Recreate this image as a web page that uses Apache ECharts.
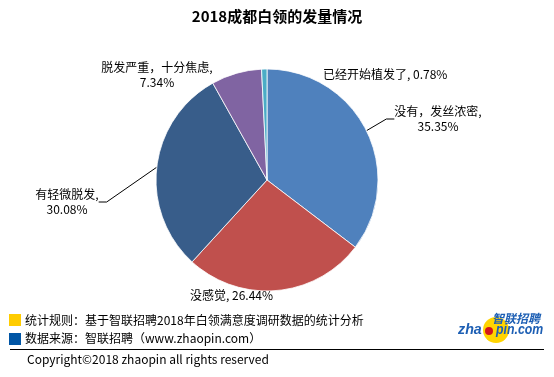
<!DOCTYPE html>
<html>
<head>
<meta charset="utf-8">
<script src="https://cdn.jsdelivr.net/npm/echarts@6/dist/echarts.min.js"></script>
<style>
  html, body { margin: 0; padding: 0; background: #fff; }
  #chart { width: 554px; height: 377px; }
</style>
</head>
<body>
<div id="chart"></div>
<script>
const names = ['没有，发丝浓密', '没感觉', '有轻微脱发', '脱发严重，十分焦虑', '已经开始植发了'];
const values = [35.35, 26.44, 30.08, 7.34, 0.78];
const colors = ['#4F81BD', '#C0504D', '#385D8A', '#8064A2', '#4BACC6'];
// label separator: one line or two
const seps = [',\n', ', ', ',\n', ',\n', ', '];

// label spots (x, y, align) and which ones get a leader line
const labelSpots = [
  [438, 119, 'center'],
  [190, 295, 'left'],
  [67, 202, 'center'],
  [157, 75, 'center'],
  [323, 74, 'left']
];
const withLine = [true, false, true, false, false];

const font = '"Microsoft YaHei", "Noto Sans CJK SC", sans-serif';
const logoFont = '"Liberation Sans", Arial, sans-serif';

const chart = echarts.init(document.getElementById('chart'));

chart.setOption({
  animation: false,
  title: {
    text: '2018成都白领的发量情况',
    left: 'center',
    top: 4,
    textStyle: { fontSize: 15, fontWeight: 'bold', color: '#000', fontFamily: font }
  },
  series: [{
    type: 'pie',
    center: [267, 180],
    radius: 111,
    startAngle: 90,
    clockwise: true,
    itemStyle: { borderColor: '#fff', borderWidth: 0.8 },
    label: {
      show: true,
      color: '#000',
      fontSize: 12,
      lineHeight: 15,
      fontFamily: font,
      formatter: p => p.name + seps[p.dataIndex] + p.value.toFixed(2) + '%'
    },
    labelLine: { lineStyle: { color: '#000', width: 1 }, length: 10, length2: 8 },
    labelLayout: p => {
      const s = labelSpots[p.dataIndex];
      return { x: s[0], y: s[1], align: s[2], verticalAlign: 'middle' };
    },
    data: names.map((n, i) => ({
      name: n,
      value: values[i],
      itemStyle: { color: colors[i] },
      label: { align: labelSpots[i][2] },
      labelLine: { show: withLine[i] }
    }))
  }],
  graphic: [
    { type: 'rect', shape: { x: 9, y: 314, width: 12, height: 12 }, style: { fill: '#FFCC00' } },
    { type: 'text', x: 25, y: 320, style: { text: '统计规则：基于智联招聘2018年白领满意度调研数据的统计分析', font: '12px ' + font, fill: '#000', verticalAlign: 'middle' } },
    { type: 'rect', shape: { x: 9, y: 333, width: 12, height: 12 }, style: { fill: '#0055A5' } },
    { type: 'text', x: 25, y: 338, style: { text: '数据来源：智联招聘（www.zhaopin.com）', font: '12px ' + font, fill: '#000', verticalAlign: 'middle' } },
    { type: 'line', shape: { x1: 10, y1: 349.5, x2: 544, y2: 349.5 }, style: { stroke: '#000', lineWidth: 1 } },
    { type: 'text', x: 27, y: 359, style: { text: 'Copyright©2018 zhaopin all rights reserved', font: '12px ' + font, fill: '#000', verticalAlign: 'middle' } },
    // logo
    { type: 'circle', shape: { cx: 496, cy: 330, r: 13 }, style: { fill: '#FFD400' } },
    { type: 'text', x: 492, y: 318, style: { text: '智联招聘', font: 'italic bold 12px ' + font, fill: '#1D5FB4', verticalAlign: 'middle' } },
    { type: 'text', x: 458, y: 330, scaleX: 0.95, style: { text: 'zha', font: 'italic bold 15px ' + logoFont, fill: '#1D5FB4', verticalAlign: 'middle' } },
    { type: 'circle', shape: { cx: 489, cy: 331, r: 4 }, style: { fill: '#D4161B' } },
    { type: 'text', x: 496, y: 330, scaleX: 0.88, style: { text: 'pin.com', font: 'italic bold 14px ' + logoFont, fill: '#1D5FB4', verticalAlign: 'middle' } }
  ]
});
</script>
</body>
</html>
